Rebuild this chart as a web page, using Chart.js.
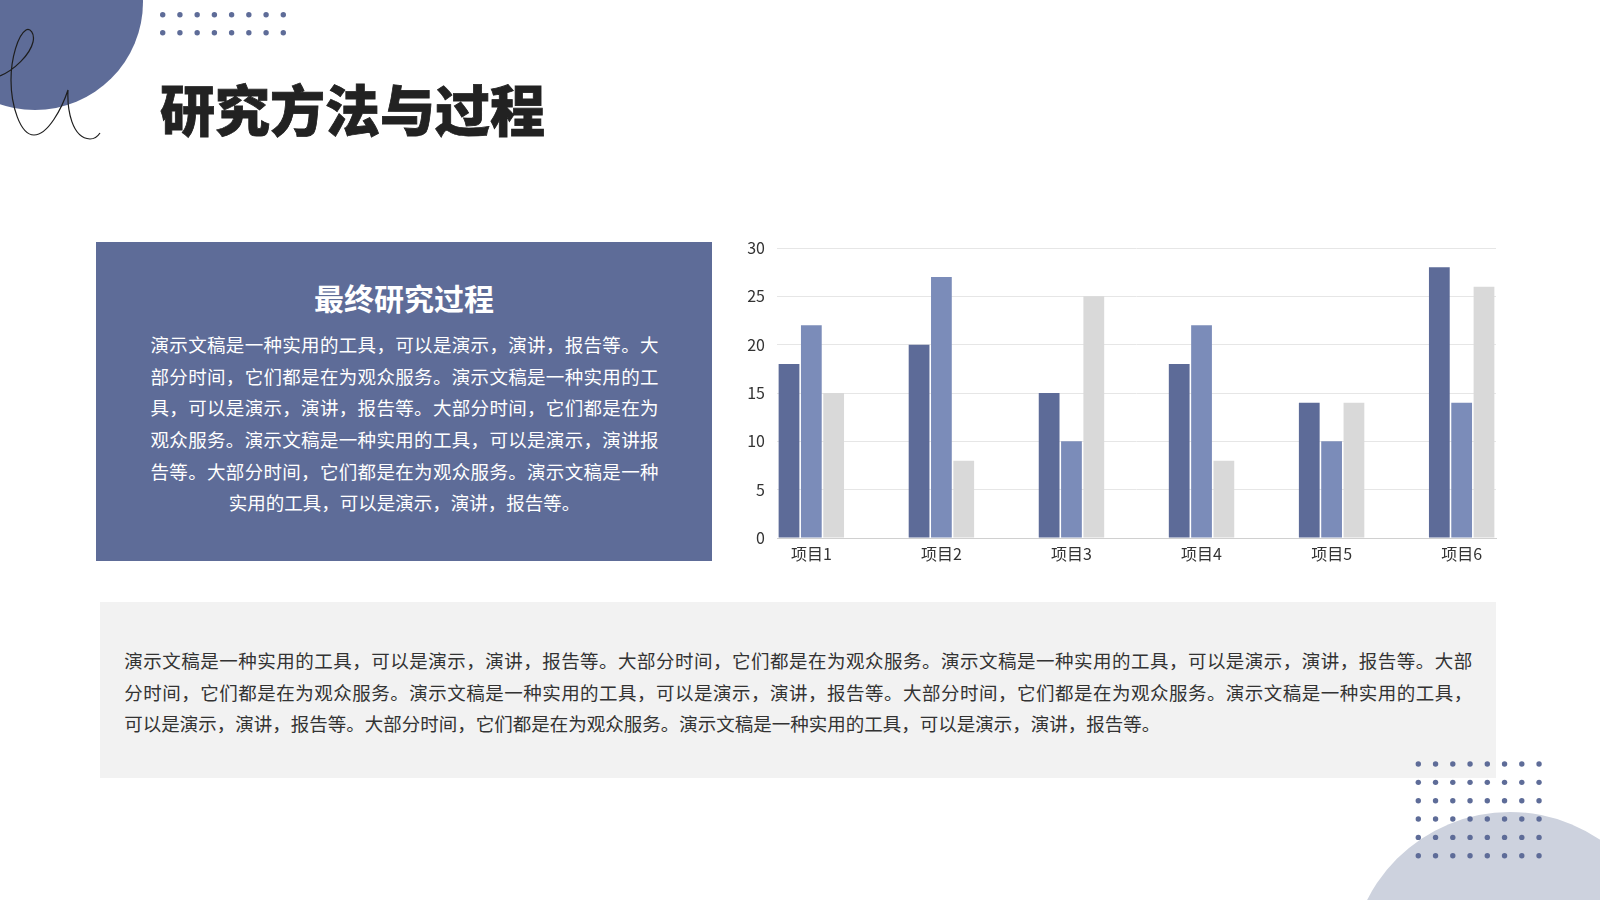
<!DOCTYPE html>
<html lang="zh-CN">
<head>
<meta charset="utf-8">
<title>研究方法与过程</title>
<script src="https://cdn.jsdelivr.net/npm/chart.js@4.4.1/dist/chart.umd.min.js"></script>
<style>
    html, body {
        margin: 0;
        padding: 0;
        width: 1600px;
        height: 900px;
        overflow: hidden;
        background: #ffffff;
        font-family: "Noto Sans CJK SC", "Noto Sans", sans-serif;
    }
    .slide { position: relative; width: 1600px; height: 900px; }
    .deco { position: absolute; left: 0; top: 0; width: 1600px; height: 900px; pointer-events: none; }
    .title {
        position: absolute;
        left: 160px;
        top: 80px;
        font-size: 55px;
        line-height: 55px;
        font-weight: 900;
        color: #222222;
        -webkit-text-stroke: 0.8px #222222;
        white-space: nowrap;
    }
    .panel {
        position: absolute;
        left: 96px;
        top: 242px;
        width: 616px;
        height: 319px;
        background: #5e6c98;
    }
    .panel-title {
        position: absolute;
        left: 0;
        width: 616px;
        top: 37px;
        text-align: center;
        font-size: 30px;
        line-height: 36px;
        font-weight: 700;
        color: #ffffff;
    }
    .lines { position: absolute; }
    .lines div {
        height: 31.7px;
        line-height: 31.7px;
        font-size: 18.5px;
        text-align: justify;
        text-align-last: justify;
        white-space: nowrap;
    }
    .lines div.last-center { text-align-last: center; }
    .lines div.last-left { text-align-last: left; }
    .panel .lines { left: 54.5px; top: 87px; width: 508px; color: #ffffff; }
    .note {
        position: absolute;
        left: 100px;
        top: 602px;
        width: 1396px;
        height: 176px;
        background: #f2f2f2;
    }
    .note .lines { left: 24.3px; top: 43px; width: 1348px; color: #333333; }
    .chart-box {
        position: absolute;
        left: 720px;
        top: 230px;
        width: 790px;
        height: 340px;
    }
</style>
</head>
<body>
<div class="slide">
    <div class="note">
        <div class="lines">
            <div>演示文稿是一种实用的工具，可以是演示，演讲，报告等。大部分时间，它们都是在为观众服务。演示文稿是一种实用的工具，可以是演示，演讲，报告等。大部</div>
            <div>分时间，它们都是在为观众服务。演示文稿是一种实用的工具，可以是演示，演讲，报告等。大部分时间，它们都是在为观众服务。演示文稿是一种实用的工具，</div>
            <div class="last-left">可以是演示，演讲，报告等。大部分时间，它们都是在为观众服务。演示文稿是一种实用的工具，可以是演示，演讲，报告等。</div>
        </div>
    </div>

    <svg class="deco" id="deco" xmlns="http://www.w3.org/2000/svg" width="1600" height="900">
        <circle cx="35" cy="2" r="108" fill="#5e6c98"></circle>
        <circle cx="1510" cy="972" r="160" fill="#cdd2de"></circle>
        <path d="M0,76 C14,70 30,55 33,42 C35,33 30,28 26,30 C18,35 11,58 11,80 C11,105 20,135 34,135 C48,135 62,108 68,90 C67,110 72,138 90,139 C95,139 98,136 100,133"
              fill="none" stroke="#1e1e1e" stroke-width="1.2"></path>
    </svg>

    <div class="title">研究方法与过程</div>

    <div class="panel">
        <div class="panel-title">最终研究过程</div>
        <div class="lines">
            <div>演示文稿是一种实用的工具，可以是演示，演讲，报告等。大</div>
            <div>部分时间，它们都是在为观众服务。演示文稿是一种实用的工</div>
            <div>具，可以是演示，演讲，报告等。大部分时间，它们都是在为</div>
            <div>观众服务。演示文稿是一种实用的工具，可以是演示，演讲报</div>
            <div>告等。大部分时间，它们都是在为观众服务。演示文稿是一种</div>
            <div class="last-center">实用的工具，可以是演示，演讲，报告等。</div>
        </div>
    </div>

    <div class="chart-box"><canvas id="barChart"></canvas></div>
</div>

<script>
    // 图表数据
    const categories = ['项目1', '项目2', '项目3', '项目4', '项目5', '项目6'];
    const series1 = [18, 20, 15, 18, 14, 28];
    const series2 = [22, 27, 10, 22, 10, 14];
    const series3 = [15, 8, 25, 8, 14, 26];
    const yTicks = [0, 5, 10, 15, 20, 25, 30];

    // 装饰圆点
    const deco = document.getElementById('deco');
    function addDots(x0, y0, cols, rows, dx, dy) {
        for (let r = 0; r < rows; r++) {
            for (let c = 0; c < cols; c++) {
                const dot = document.createElementNS('http://www.w3.org/2000/svg', 'circle');
                dot.setAttribute('cx', x0 + c * dx);
                dot.setAttribute('cy', y0 + r * dy);
                dot.setAttribute('r', 2.7);
                dot.setAttribute('fill', '#5e6c98');
                deco.appendChild(dot);
            }
        }
    }
    addDots(162.7, 14.7, 8, 2, 17.23, 18);
    addDots(1418.3, 764, 8, 6, 17.25, 18.35);

    // 柱状图
    const toPoints = arr => arr.map((v, i) => ({ x: i, y: v }));
    const tickFont = { family: '"Noto Sans CJK SC", sans-serif', size: 16 };

    new Chart(document.getElementById('barChart'), {
        type: 'bar',
        data: {
            datasets: [
                { label: '系列1', data: toPoints(series1), backgroundColor: '#5d6b98' },
                { label: '系列2', data: toPoints(series2), backgroundColor: '#7b8cb9' },
                { label: '系列3', data: toPoints(series3), backgroundColor: '#d9d9d9' }
            ]
        },
        options: {
            responsive: true,
            maintainAspectRatio: false,
            animation: false,
            devicePixelRatio: 1,
            categoryPercentage: 0.515,
            barPercentage: 0.93,
            layout: { padding: { top: 18, right: 14, left: 0, bottom: 0 } },
            plugins: {
                legend: { display: false },
                tooltip: { enabled: false }
            },
            scales: {
                x: {
                    type: 'linear',
                    min: -0.264,
                    max: categories.length - 1 + 0.264,
                    offset: false,
                    grid: { display: false, drawTicks: false },
                    border: { display: true, color: '#d0d0d0', width: 1 },
                    ticks: {
                        stepSize: 1,
                        includeBounds: false,
                        autoSkip: false,
                        maxRotation: 0,
                        padding: 6,
                        color: '#333333',
                        font: tickFont,
                        callback: v => categories[v] ?? ''
                    },
                    afterFit: scale => { scale.height = 32; }
                },
                y: {
                    min: yTicks[0],
                    max: yTicks[yTicks.length - 1],
                    // 刻度线透明，只用来留出标签间距
                    grid: { color: '#e6e6e6', drawTicks: true, tickLength: 12, tickColor: 'rgba(0,0,0,0)' },
                    border: { display: false },
                    afterBuildTicks: scale => { scale.ticks = yTicks.map(v => ({ value: v })); },
                    ticks: {
                        padding: 0,
                        color: '#333333',
                        font: tickFont
                    },
                    afterFit: scale => { scale.width = 57; }
                }
            }
        }
    });
</script>
</body>
</html>
